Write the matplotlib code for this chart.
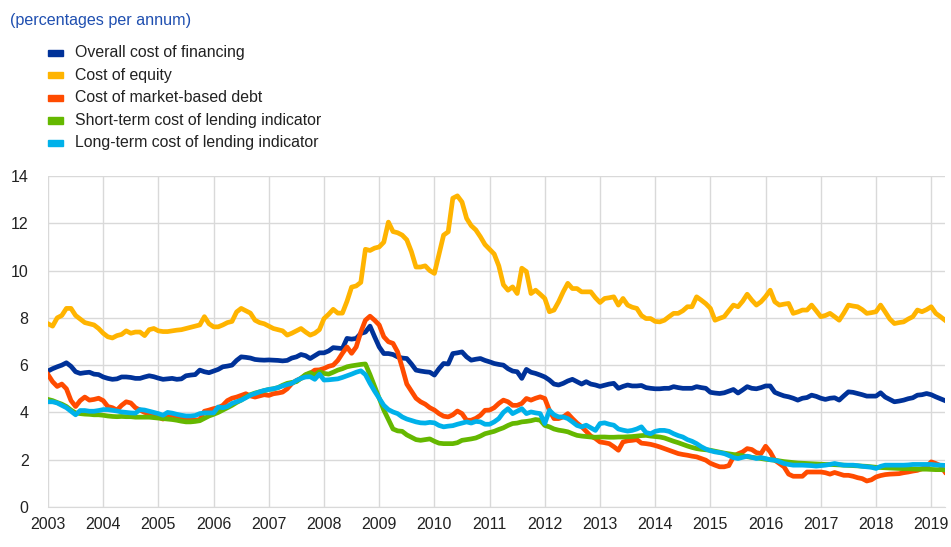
import numpy as np
import pandas as pd
import matplotlib
matplotlib.use("Agg")
import matplotlib.pyplot as plt
from matplotlib.patches import Rectangle

plt.rcParams['font.family'] = ['Liberation Sans', 'DejaVu Sans']

# monthly observations, Jan 2003 - Apr 2019 (one row per year)
overall = [
    5.75, 5.85, 5.93, 6.0, 6.1, 5.95, 5.72, 5.65, 5.68, 5.7, 5.62, 5.6,
    5.5, 5.44, 5.4, 5.42, 5.5, 5.5, 5.48, 5.44, 5.44, 5.5, 5.55, 5.51,
    5.45, 5.4, 5.42, 5.44, 5.4, 5.42, 5.55, 5.58, 5.6, 5.79, 5.72, 5.68,
    5.75, 5.82, 5.93, 5.96, 6.0, 6.2, 6.35, 6.33, 6.3, 6.24, 6.22, 6.21,
    6.22, 6.21, 6.2, 6.18, 6.2, 6.3, 6.35, 6.45, 6.4, 6.28, 6.4, 6.52,
    6.52, 6.6, 6.74, 6.72, 6.7, 7.13, 7.1, 7.13, 7.34, 7.4, 7.65, 7.2,
    6.77, 6.49, 6.49, 6.45, 6.35, 6.3, 6.28, 6.05, 5.79, 5.75, 5.72, 5.7,
    5.58, 5.85, 6.07, 6.05, 6.49, 6.52, 6.56, 6.35, 6.21, 6.25, 6.28, 6.2,
    6.14, 6.07, 6.03, 6.0, 5.85, 5.75, 5.72, 5.44, 5.82, 5.7, 5.65, 5.58,
    5.5, 5.37, 5.2, 5.16, 5.23, 5.33, 5.4, 5.3, 5.2, 5.3, 5.2, 5.16,
    5.1, 5.15, 5.2, 5.23, 5.02, 5.1, 5.16, 5.12, 5.12, 5.14, 5.05, 5.02,
    5.0, 5.0, 5.02, 5.02, 5.09, 5.05, 5.02, 5.02, 5.02, 5.09, 5.05, 5.02,
    4.85, 4.82, 4.8, 4.83, 4.9, 4.97, 4.82, 4.95, 5.09, 5.02, 5.0, 5.05,
    5.12, 5.12, 4.85, 4.77, 4.7, 4.66, 4.6, 4.52, 4.6, 4.63, 4.73, 4.68,
    4.6, 4.55, 4.6, 4.62, 4.52, 4.7, 4.87, 4.85, 4.8, 4.75, 4.69, 4.69,
    4.69, 4.83, 4.65, 4.55, 4.45, 4.48, 4.52, 4.58, 4.62, 4.73, 4.75, 4.8,
    4.75, 4.66, 4.58, 4.5,
]
equity = [
    7.75, 7.65, 8.0, 8.1, 8.4, 8.4, 8.1, 7.95, 7.8, 7.75, 7.7, 7.55,
    7.35, 7.2, 7.15, 7.25, 7.3, 7.45, 7.35, 7.4, 7.4, 7.25, 7.5, 7.55,
    7.45, 7.42, 7.42, 7.45, 7.48, 7.5, 7.55, 7.6, 7.65, 7.7, 8.05, 7.75,
    7.62, 7.62, 7.7, 7.8, 7.85, 8.25, 8.4, 8.3, 8.2, 7.9, 7.8, 7.75,
    7.65, 7.55, 7.5, 7.45, 7.27, 7.35, 7.45, 7.55, 7.4, 7.27, 7.35, 7.5,
    7.97, 8.15, 8.36, 8.2, 8.2, 8.7, 9.3, 9.35, 9.5, 10.9, 10.85, 10.95,
    11.0, 11.2, 12.05, 11.65, 11.6, 11.5, 11.3, 10.8, 10.15, 10.15, 10.2, 10.0,
    9.88, 10.7, 11.5, 11.64, 13.06, 13.16, 12.9, 12.21, 11.9, 11.72, 11.43, 11.1,
    10.9, 10.7, 10.2, 9.4, 9.17, 9.31, 9.03, 10.1, 9.96, 9.03, 9.17, 9.0,
    8.82, 8.26, 8.33, 8.68, 9.1, 9.46, 9.24, 9.24, 9.1, 9.1, 9.1, 8.85,
    8.65, 8.82, 8.85, 8.89, 8.54, 8.82, 8.54, 8.45, 8.4, 8.1, 7.97, 7.97,
    7.85, 7.83, 7.9, 8.05, 8.19, 8.19, 8.3, 8.47, 8.47, 8.89, 8.75, 8.6,
    8.4, 7.9, 7.98, 8.05, 8.3, 8.54, 8.47, 8.7, 9.0, 8.75, 8.54, 8.68,
    8.9, 9.17, 8.68, 8.54, 8.58, 8.61, 8.19, 8.25, 8.33, 8.33, 8.54, 8.3,
    8.05, 8.1, 8.19, 8.05, 7.9, 8.2, 8.54, 8.5, 8.47, 8.35, 8.19, 8.22,
    8.26, 8.54, 8.25, 7.95, 7.76, 7.8, 7.83, 7.95, 8.05, 8.33, 8.26, 8.35,
    8.47, 8.19, 8.05, 7.9,
]
market_debt = [
    5.6, 5.3, 5.1, 5.2, 5.0, 4.5, 4.25, 4.5, 4.65, 4.52, 4.55, 4.6,
    4.5, 4.25, 4.2, 4.1, 4.3, 4.45, 4.4, 4.2, 4.1, 4.0, 3.95, 3.9,
    3.8, 3.72, 3.8, 3.88, 3.82, 3.81, 3.72, 3.7, 3.67, 3.7, 4.05, 4.1,
    4.16, 4.2, 4.3, 4.5, 4.6, 4.65, 4.72, 4.79, 4.7, 4.65, 4.7, 4.75,
    4.72, 4.79, 4.82, 4.86, 5.0, 5.22, 5.35, 5.44, 5.58, 5.65, 5.79, 5.8,
    5.86, 5.95, 6.0, 6.2, 6.5, 6.77, 6.5, 6.77, 7.4, 7.9, 8.07, 7.9,
    7.7, 7.2, 6.99, 6.92, 6.56, 5.9, 5.2, 4.9, 4.6, 4.45, 4.35, 4.2,
    4.1, 3.95, 3.84, 3.81, 3.9, 4.06, 3.95, 3.67, 3.67, 3.75, 3.88, 4.09,
    4.1, 4.2, 4.38, 4.52, 4.45, 4.3, 4.3, 4.38, 4.59, 4.52, 4.6, 4.66,
    4.59, 4.09, 3.74, 3.74, 3.81, 3.95, 3.74, 3.55, 3.4, 3.2, 3.0, 2.9,
    2.75, 2.72, 2.68, 2.55, 2.4, 2.75, 2.8, 2.82, 2.85, 2.7, 2.68, 2.65,
    2.6, 2.54, 2.47, 2.4, 2.33, 2.26, 2.22, 2.19, 2.15, 2.12, 2.05, 1.98,
    1.85, 1.77, 1.7, 1.7, 1.75, 2.12, 2.25, 2.33, 2.47, 2.43, 2.3, 2.26,
    2.57, 2.33, 1.98, 1.84, 1.7, 1.39, 1.3, 1.3, 1.3, 1.48, 1.48, 1.48,
    1.48, 1.45, 1.39, 1.46, 1.4, 1.34, 1.34, 1.3, 1.24, 1.2, 1.1, 1.15,
    1.27, 1.33, 1.37, 1.39, 1.4, 1.41, 1.45, 1.48, 1.52, 1.55, 1.62, 1.7,
    1.91, 1.84, 1.75, 1.48,
]
short_lending = [
    4.55, 4.5, 4.42, 4.35, 4.25, 4.1, 3.98, 3.95, 3.93, 3.92, 3.9, 3.9,
    3.88, 3.85, 3.83, 3.82, 3.83, 3.82, 3.82, 3.8, 3.8, 3.8, 3.8, 3.78,
    3.76, 3.74, 3.72, 3.7, 3.67, 3.63, 3.6, 3.6, 3.62, 3.65, 3.75, 3.85,
    3.92, 4.0, 4.1, 4.2, 4.3, 4.42, 4.52, 4.65, 4.75, 4.82, 4.87, 4.92,
    4.97, 5.0, 5.05, 5.15, 5.23, 5.27, 5.3, 5.45, 5.6, 5.68, 5.58, 5.72,
    5.65, 5.62, 5.7, 5.79, 5.85, 5.93, 5.97, 6.0, 6.03, 6.05, 5.6, 5.1,
    4.6, 4.1, 3.7, 3.3, 3.22, 3.2, 3.05, 2.95, 2.85, 2.82, 2.85, 2.88,
    2.78, 2.7, 2.68, 2.68, 2.68, 2.72, 2.82, 2.85, 2.88, 2.92, 3.0, 3.1,
    3.15, 3.2, 3.28, 3.35, 3.45, 3.53, 3.55, 3.6, 3.62, 3.65, 3.7, 3.67,
    3.45, 3.39, 3.3, 3.25, 3.22, 3.18, 3.1, 3.03, 3.0, 2.98, 2.96, 2.95,
    2.96, 2.96, 2.95, 2.95, 2.96, 2.96, 2.97, 2.98, 3.0, 3.02, 3.03, 3.0,
    2.98, 2.96, 2.92, 2.85, 2.78, 2.72, 2.65, 2.58, 2.52, 2.47, 2.44, 2.42,
    2.4, 2.36, 2.32, 2.28, 2.25, 2.22, 2.2, 2.17, 2.13, 2.1, 2.08, 2.05,
    2.02, 2.0, 1.98, 1.95, 1.92, 1.9, 1.88, 1.86, 1.85, 1.84, 1.83, 1.82,
    1.81, 1.8, 1.8, 1.79, 1.78, 1.77, 1.76, 1.75, 1.74, 1.73, 1.72, 1.7,
    1.68, 1.67, 1.66, 1.65, 1.64, 1.63, 1.62, 1.62, 1.61, 1.6, 1.6, 1.6,
    1.59, 1.58, 1.58, 1.57,
]
long_lending = [
    4.45, 4.45, 4.4, 4.3, 4.2, 4.05, 3.9, 4.08, 4.08, 4.05, 4.05, 4.08,
    4.12, 4.12, 4.09, 4.06, 4.02, 4.0, 3.98, 3.97, 4.12, 4.1, 4.05, 4.0,
    3.95, 3.88, 4.0, 3.97, 3.92, 3.88, 3.85, 3.85, 3.87, 3.95, 3.98, 3.98,
    3.98, 4.23, 4.2, 4.25, 4.38, 4.45, 4.52, 4.62, 4.73, 4.8, 4.87, 4.93,
    4.97, 5.0, 5.05, 5.12, 5.18, 5.23, 5.35, 5.44, 5.5, 5.51, 5.4, 5.62,
    5.37, 5.38, 5.4, 5.42, 5.48, 5.55, 5.62, 5.7, 5.76, 5.6, 5.23, 4.9,
    4.6, 4.3, 4.12, 4.02, 3.95, 3.81, 3.72, 3.66, 3.6, 3.56, 3.55, 3.58,
    3.56, 3.45, 3.39, 3.42, 3.44, 3.5, 3.55, 3.6, 3.55, 3.62, 3.6, 3.5,
    3.5, 3.6, 3.74, 4.0, 4.16, 3.95, 4.05, 4.16, 3.95, 4.02, 3.98, 3.95,
    3.53, 4.09, 3.9, 3.81, 3.81, 3.74, 3.6, 3.45, 3.39, 3.46, 3.35, 3.24,
    3.53, 3.56, 3.5, 3.46, 3.3, 3.25, 3.21, 3.24, 3.3, 3.39, 3.15, 3.1,
    3.2, 3.24, 3.24, 3.2, 3.1, 3.02, 2.96, 2.85, 2.78, 2.68, 2.55, 2.45,
    2.38, 2.33, 2.3, 2.26, 2.18, 2.09, 2.05, 2.1, 2.15, 2.1, 2.05, 2.09,
    2.05, 2.0, 1.98, 1.92, 1.84, 1.8, 1.77, 1.77, 1.77, 1.76, 1.75, 1.73,
    1.75, 1.77, 1.8, 1.84, 1.8, 1.77, 1.77, 1.77, 1.75, 1.72, 1.7, 1.68,
    1.63, 1.72, 1.77, 1.77, 1.77, 1.77, 1.77, 1.78, 1.8, 1.8, 1.8, 1.8,
    1.8, 1.78, 1.77, 1.76,
]

labels = ["Overall cost of financing", "Cost of equity", "Cost of market-based debt",
          "Short-term cost of lending indicator", "Long-term cost of lending indicator"]
colors = ["#003299", "#FFB400", "#FF4B00", "#65B800", "#00B1EA"]
year_ticks = list(range(2003, 2020))
y_ticks = [0, 2, 4, 6, 8, 10, 12, 14]

dates = pd.date_range("2003-01-01", periods=len(overall), freq="MS")
x = dates.year + (dates.month - 1) / 12

fig = plt.figure(figsize=(9.51, 5.47), dpi=100)
ax = fig.add_axes([48 / 951, 40 / 547, 897 / 951, 331 / 547])

for series, col in zip([overall, equity, market_debt, short_lending, long_lending], colors):
    ax.plot(x, series, color=col, lw=3.4, solid_joinstyle="round")

ax.set_xlim(2003, 2019.25)
ax.set_ylim(0, 14)
ax.set_xticks(year_ticks)
ax.set_yticks(y_ticks)
ax.grid(True, color="#d9d9d9", lw=1)
ax.set_axisbelow(True)
for s in ["top", "right", "left"]:
    ax.spines[s].set_visible(False)
ax.spines["bottom"].set_color("#d9d9d9")
ax.tick_params(length=0, labelsize=11.5, colors="#222222")
ax.tick_params(axis="x", pad=7)
ax.tick_params(axis="y", pad=14)

# title and legend in figure pixels
W, H = 951, 547
fig.text(10 / W, 1 - 20 / H, "(percentages per annum)", color="#1f4fb0",
         fontsize=11.6, va="center", ha="left")
for i, (lab, col) in enumerate(zip(labels, colors)):
    yc = 53 + i * 22.5
    fig.patches.append(Rectangle((48 / W, 1 - (yc + 3) / H), 15 / W, 6 / H,
                                 transform=fig.transFigure, color=col))
    fig.text(75 / W, 1 - yc / H, lab, fontsize=11.4, va="center", ha="left", color="#222222")

fig.savefig("out.png", dpi=100)
